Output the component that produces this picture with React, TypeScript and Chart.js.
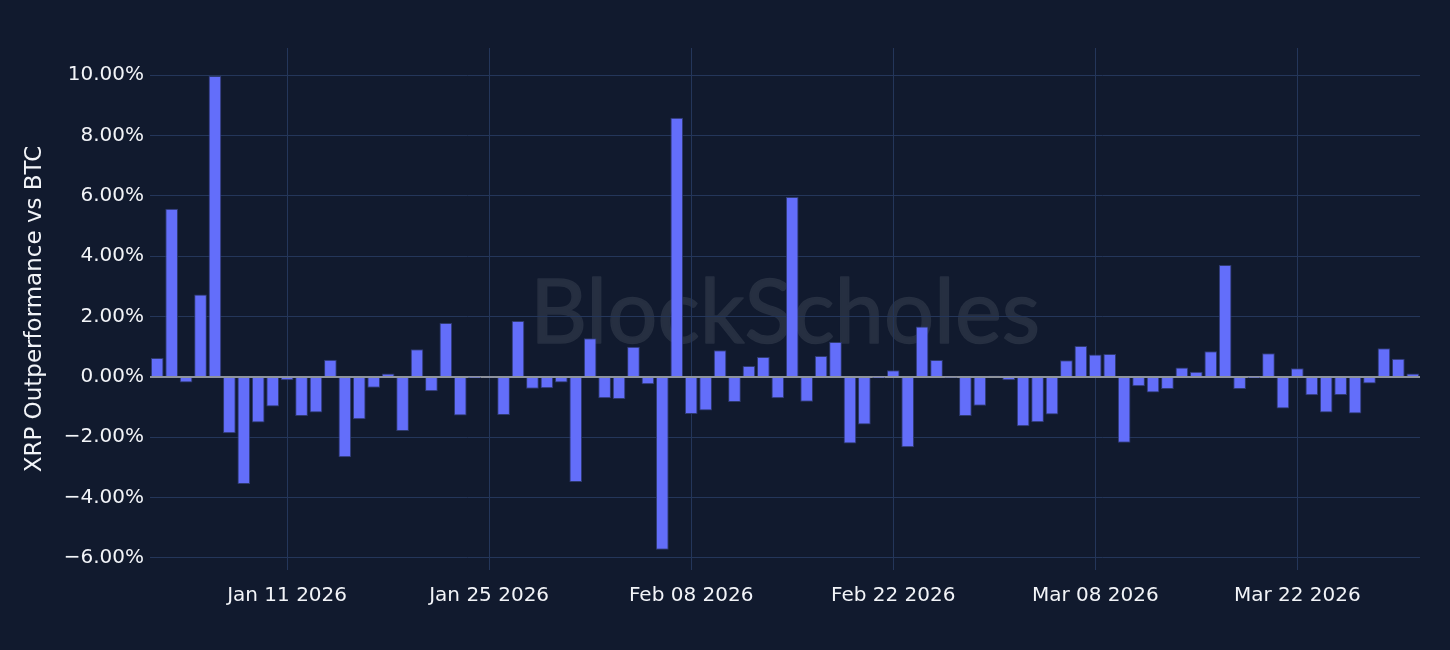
import React, { useEffect, useRef } from "react";
import { Chart, registerables } from "chart.js";

Chart.register(...registerables);

// First day of the series; one bar per consecutive day
const START_DATE = "2026-01-02";

// XRP daily outperformance vs BTC (%)
const janValues = [
  0.63, 5.57, -0.19, 2.73, 9.97, -1.87, -3.55, -1.51, -0.98, -0.11,
  -1.3, -1.18, 0.57, -2.66, -1.4, -0.36, 0.11, -1.79, 0.92, -0.48,
  1.79, -1.28, -0.01, -0.03, -1.26, 1.85, -0.39, -0.38, -0.19, -3.48,
];
const febValues = [
  1.28, -0.71, -0.73, 1.0, -0.24, -5.73, 8.59, -1.23, -1.11, 0.88,
  -0.83, 0.36, 0.66, -0.71, 5.96, -0.82, 0.69, 1.16, -2.21, -1.58,
  -0.01, 0.22, -2.33, 1.67, 0.56, -0.02, -1.3, -0.96,
];
const marValues = [
  0.04, -0.11, -1.64, -1.5, -1.25, 0.55, 1.02, 0.74, 0.76, -2.18,
  -0.31, -0.52, -0.4, 0.31, 0.17, 0.85, 3.71, -0.4, -0.01, 0.78,
  -1.05, 0.29, -0.61, -1.18, -0.6, -1.21, -0.22, 0.95, 0.6, 0.11,
];

const tickDates = ["2026-01-11", "2026-01-25", "2026-02-08", "2026-02-22", "2026-03-08", "2026-03-22"];
const tickLabels = ["Jan 11 2026", "Jan 25 2026", "Feb 08 2026", "Feb 22 2026", "Mar 08 2026", "Mar 22 2026"];
const yTicks = [-6, -4, -2, 0, 2, 4, 6, 8, 10];

const values = [...janValues, ...febValues, ...marValues];

function buildDates(start: string, n: number): string[] {
  const out: string[] = [];
  const d = new Date(start + "T00:00:00Z");
  for (let i = 0; i < n; i++) {
    out.push(d.toISOString().slice(0, 10));
    d.setUTCDate(d.getUTCDate() + 1);
  }
  return out;
}
const dates = buildDates(START_DATE, values.length);

const BG = "#111a2e";
const GRID = "#24365a";
const ZERO = "#8e939c";
const TEXT = "#f2f4f8";
const FONT = "'DejaVu Sans', Verdana, sans-serif";

const watermark = {
  id: "watermark",
  beforeDraw(chart: any) {
    const { ctx, width, height } = chart;
    ctx.save();
    ctx.fillStyle = BG;
    ctx.fillRect(0, 0, width, height);
    const text = "BlockScholes";
    let size = 84;
    const fam = "Lato, 'Noto Sans', sans-serif";
    ctx.font = `400 ${size}px ${fam}`;
    const w = ctx.measureText(text).width;
    size = size * (510 / w);
    ctx.font = `400 ${size}px ${fam}`;
    ctx.fillStyle = "#262f41";
    ctx.strokeStyle = "#262f41";
    ctx.lineWidth = 1.5;
    ctx.lineJoin = "round";
    ctx.textAlign = "center";
    ctx.textBaseline = "alphabetic";
    ctx.fillText(text, 785, 343);
    ctx.strokeText(text, 785, 343);
    ctx.restore();
  },
};

export default function App() {
  const ref = useRef<HTMLCanvasElement | null>(null);

  useEffect(() => {
    if (!ref.current) return;
    const chart = new Chart(ref.current, {
      type: "bar",
      data: {
        labels: dates,
        datasets: [
          {
            data: values,
            backgroundColor: "#636efa",
            borderColor: "#2e3a6e",
            borderWidth: 1,
            barPercentage: 0.88,
            categoryPercentage: 1,
          },
        ],
      },
      options: {
        responsive: false,
        animation: false,
        layout: { padding: { left: 0, right: 30, top: 48, bottom: 0 } },
        plugins: {
          legend: { display: false },
          tooltip: { enabled: false },
        },
        scales: {
          x: {
            offset: true,
            border: { display: false },
            grid: {
              offset: false,
              color: GRID,
              lineWidth: 1,
              drawTicks: false,
            },
            ticks: {
              autoSkip: false,
              maxRotation: 0,
              color: TEXT,
              padding: 14,
              font: { family: FONT, size: 20 },
              callback: (val: any) => {
                const i = tickDates.indexOf(dates[val as number]);
                return i >= 0 ? tickLabels[i] : "";
              },
            },
            afterBuildTicks: (s: any) => {
              s.ticks = tickDates.map((d) => ({ value: dates.indexOf(d) }));
            },
            afterFit: (s: any) => {
              s.height = 80;
            },
          },
          y: {
            min: -6.4,
            max: 10.9,
            border: { display: false },
            grid: {
              color: (c: any) => (c.tick && c.tick.value === 0 ? ZERO : GRID),
              lineWidth: (c: any) => (c.tick && c.tick.value === 0 ? 2 : 1),
              drawTicks: false,
            },
            ticks: {
              color: TEXT,
              padding: 6,
              font: { family: FONT, size: 20 },
              callback: (v: any) => {
                const n = Number(v);
                const s = Math.abs(n).toFixed(2) + "%";
                return n < 0 ? "\u2212" + s : s;
              },
            },
            afterBuildTicks: (s: any) => {
              s.ticks = yTicks.map((v) => ({ value: v }));
            },
            afterFit: (s: any) => {
              s.width = 150;
            },
            title: {
              display: true,
              text: "XRP Outperformance vs BTC",
              color: TEXT,
              font: { family: FONT, size: 23 },
              padding: { top: 21, bottom: 0 },
            },
          },
        },
      },
      plugins: [watermark],
    });
    return () => chart.destroy();
  }, []);

  return (
    <div style={{ position: "absolute", left: 0, top: 0, width: 1450, height: 650, background: BG }}>
      <canvas ref={ref} width={1450} height={650} style={{ display: "block" }} />
    </div>
  );
}
